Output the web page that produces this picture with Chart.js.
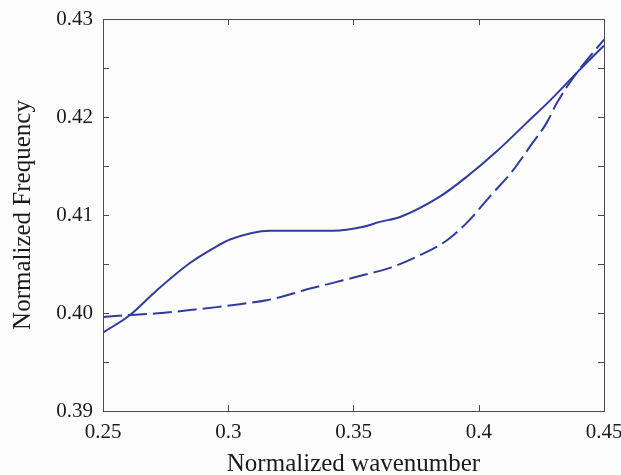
<!DOCTYPE html>
<html>
<head>
<meta charset="utf-8">
<script src="https://cdn.jsdelivr.net/npm/chart.js@4.4.0/dist/chart.umd.min.js"></script>
<style>
  html, body { margin: 0; padding: 0; background: #fdfdfd; }
  #wrap { width: 621px; height: 475px; }
</style>
</head>
<body>
<div id="wrap"><canvas id="band"></canvas></div>
<script>
// Dispersion curves: solid and dashed band
const solidK = [0.25, 0.2608, 0.2714, 0.2847, 0.2940, 0.3007, 0.3167, 0.3419, 0.3539, 0.3605, 0.3686, 0.3846, 0.3952, 0.4072, 0.4191, 0.4285, 0.4391, 0.45];
const solidF = [0.3980, 0.3998, 0.4023, 0.4051, 0.4066, 0.4075, 0.4084, 0.4084, 0.4088, 0.4093, 0.4098, 0.4119, 0.4139, 0.4165, 0.4194, 0.4217, 0.4245, 0.4273];

const dashK = [0.25, 0.2608, 0.2735, 0.2847, 0.2954, 0.3046, 0.3153, 0.3220, 0.3299, 0.3407, 0.3513, 0.3606, 0.3646, 0.3765, 0.3872, 0.3952, 0.4045, 0.4138, 0.4205, 0.4271, 0.4311, 0.4391, 0.45];
const dashF = [0.3996, 0.3998, 0.4000, 0.4003, 0.4006, 0.4009, 0.4013, 0.4017, 0.4023, 0.4030, 0.4037, 0.4043, 0.4046, 0.4059, 0.4074, 0.4092, 0.4119, 0.4146, 0.4170, 0.4194, 0.4214, 0.4245, 0.4279];

const xTicks = [0.25, 0.3, 0.35, 0.4, 0.45];
const yTicks = [0.39, 0.395, 0.40, 0.405, 0.41, 0.415, 0.42, 0.425, 0.43];

const lineColor = "#2f3c9e";
const inkColor = "#1a1a1a";
const serif = "'Liberation Serif', 'DejaVu Serif', serif";

let toPoints = (xs, ys) => xs.map((x, i) => ({ x: x, y: ys[i] }));

// MATLAB-ish box with inward ticks on all four sides
const boxPlugin = {
    id: "box",
    beforeDraw(chart) {
        const ctx = chart.ctx;
        ctx.save();
        ctx.fillStyle = "#fdfdfd";
        ctx.fillRect(0, 0, chart.width, chart.height);
        ctx.restore();
    },
    afterDatasetsDraw(chart) {
        const { ctx, chartArea: a, scales } = chart;
        const len = 6;
        ctx.save();
        ctx.strokeStyle = "#4a4a4a";
        ctx.lineWidth = 1;
        ctx.beginPath();
        for (const v of xTicks) {
            const px = Math.round(scales.x.getPixelForValue(v)) + 0.5;
            ctx.moveTo(px, a.bottom); ctx.lineTo(px, a.bottom - len);
            ctx.moveTo(px, a.top); ctx.lineTo(px, a.top + len);
        }
        for (const v of yTicks) {
            const py = Math.round(scales.y.getPixelForValue(v)) + 0.5;
            ctx.moveTo(a.left, py); ctx.lineTo(a.left + len, py);
            ctx.moveTo(a.right, py); ctx.lineTo(a.right - len, py);
        }
        ctx.stroke();
        ctx.strokeRect(Math.round(a.left) + 0.5, Math.round(a.top) + 0.5, Math.round(a.right - a.left), Math.round(a.bottom - a.top));
        ctx.restore();
    }
};

new Chart(document.getElementById("band"), {
    type: "line",
    data: {
        datasets: [
            {
                data: toPoints(solidK, solidF),
                borderColor: lineColor,
                borderWidth: 2,
                pointRadius: 0,
                cubicInterpolationMode: "monotone"
            },
            {
                data: toPoints(dashK, dashF),
                borderColor: lineColor,
                borderWidth: 2,
                borderDash: [19, 6],
                pointRadius: 0,
                cubicInterpolationMode: "monotone"
            }
        ]
    },
    options: {
        responsive: true,
        maintainAspectRatio: false,
        animation: false,
        layout: { padding: { top: 19, right: 17, left: 0, bottom: 0 } },
        plugins: { legend: { display: false }, tooltip: { enabled: false } },
        scales: {
            x: {
                type: "linear",
                min: 0.25,
                max: 0.45,
                afterBuildTicks: (s) => { s.ticks = xTicks.map(v => ({ value: v })); },
                afterFit: (s) => { s.height = 64; s.paddingLeft = 0; s.paddingRight = 0; },
                grid: { display: false, drawTicks: false },
                border: { display: false },
                ticks: {
                    padding: 9,
                    color: inkColor,
                    font: { family: serif, size: 21 },
                    maxRotation: 0,
                    callback: (v) => String(+v.toFixed(2))
                },
                title: {
                    display: true,
                    text: "Normalized wavenumber",
                    color: inkColor,
                    font: { family: serif, size: 25 },
                    padding: { top: 0, bottom: -4 }
                }
            },
            y: {
                type: "linear",
                min: 0.39,
                max: 0.43,
                afterBuildTicks: (s) => { s.ticks = yTicks.map(v => ({ value: v })); },
                afterFit: (s) => { s.width = 103; s.paddingTop = 0; s.paddingBottom = 0; },
                grid: { display: false, drawTicks: false },
                border: { display: false },
                ticks: {
                    padding: 10,
                    color: inkColor,
                    font: { family: serif, size: 21 },
                    callback: (v) => Math.round(v * 1000) % 10 === 0 ? v.toFixed(2) : ""
                },
                title: {
                    display: true,
                    text: "Normalized Frequency",
                    color: inkColor,
                    font: { family: serif, size: 25 },
                    padding: { top: 8, bottom: 0 }
                }
            }
        }
    },
    plugins: [boxPlugin]
});
</script>
</body>
</html>
